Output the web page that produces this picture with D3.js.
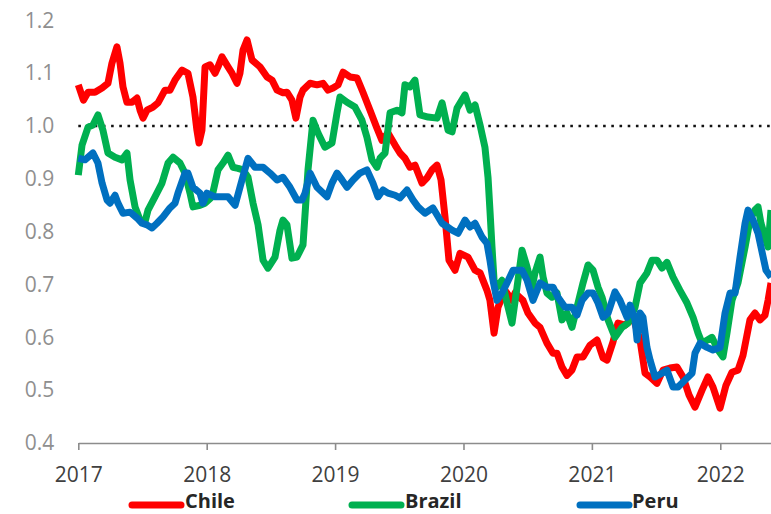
<!DOCTYPE html>
<html>
<head>
<meta charset="utf-8">
<script src="https://cdn.jsdelivr.net/npm/d3@7"></script>
<style>
  html, body { margin: 0; padding: 0; background: #fff; }
  svg { display: block; font-family: "Open Sans", "Noto Sans", sans-serif; }
</style>
</head>
<body>
<svg id="chart" width="771" height="514"></svg>
<script>
// 시리즈 데이터: [연도(소수), 값]
const chile = [
  [2017.00,1.078],[2017.04,1.049],[2017.076,1.064],[2017.13,1.064],[2017.185,1.072],[2017.231,1.081],
  [2017.262,1.119],[2017.301,1.150],[2017.325,1.119],[2017.348,1.074],[2017.379,1.045],[2017.418,1.045],
  [2017.457,1.053],[2017.481,1.030],[2017.504,1.015],[2017.535,1.030],[2017.582,1.036],[2017.621,1.044],
  [2017.675,1.068],[2017.714,1.068],[2017.753,1.087],[2017.808,1.106],[2017.854,1.100],[2017.893,1.055],
  [2017.924,0.992],[2017.94,0.968],[2017.963,0.992],[2017.987,1.112],[2018.026,1.116],[2018.065,1.100],
  [2018.088,1.112],[2018.119,1.131],[2018.166,1.112],[2018.197,1.100],[2018.236,1.081],[2018.259,1.100],
  [2018.283,1.144],[2018.314,1.163],[2018.353,1.125],[2018.415,1.112],[2018.47,1.093],[2018.509,1.087],
  [2018.548,1.068],[2018.594,1.063],[2018.625,1.064],[2018.664,1.049],[2018.695,1.015],[2018.727,1.055],
  [2018.75,1.068],[2018.805,1.081],[2018.859,1.078],[2018.906,1.081],[2018.945,1.068],[2018.984,1.072],
  [2019.023,1.078],[2019.062,1.102],[2019.116,1.093],[2019.171,1.091],[2019.217,1.064],[2019.272,1.030],
  [2019.326,0.996],[2019.365,0.973],[2019.412,0.987],[2019.467,0.964],[2019.505,0.949],[2019.544,0.939],
  [2019.583,0.922],[2019.622,0.926],[2019.677,0.892],[2019.716,0.902],[2019.755,0.917],[2019.794,0.926],
  [2019.825,0.898],[2019.856,0.828],[2019.887,0.746],[2019.934,0.727],[2019.973,0.759],[2020.035,0.752],
  [2020.09,0.727],[2020.129,0.722],[2020.183,0.689],[2020.206,0.670],[2020.238,0.608],[2020.269,0.657],
  [2020.323,0.689],[2020.378,0.670],[2020.401,0.684],[2020.463,0.670],[2020.502,0.646],[2020.557,0.627],
  [2020.596,0.619],[2020.65,0.589],[2020.697,0.570],[2020.728,0.570],[2020.767,0.544],[2020.806,0.528],
  [2020.845,0.538],[2020.884,0.563],[2020.931,0.563],[2020.985,0.585],[2021.04,0.595],[2021.087,0.561],
  [2021.118,0.557],[2021.164,0.591],[2021.203,0.627],[2021.258,0.623],[2021.32,0.638],[2021.375,0.595],
  [2021.414,0.532],[2021.453,0.525],[2021.507,0.513],[2021.554,0.538],[2021.608,0.542],[2021.663,0.544],
  [2021.71,0.525],[2021.756,0.491],[2021.803,0.468],[2021.858,0.500],[2021.904,0.525],[2021.943,0.506],
  [2021.998,0.466],[2022.044,0.509],[2022.091,0.534],[2022.138,0.538],[2022.177,0.566],[2022.231,0.633],
  [2022.27,0.646],[2022.309,0.633],[2022.348,0.642],[2022.372,0.670],[2022.395,0.703]
];

const brazil = [
  [2017.00,0.907],[2017.029,0.964],[2017.076,0.998],[2017.114,1.002],[2017.153,1.021],[2017.192,0.992],
  [2017.231,0.949],[2017.286,0.941],[2017.34,0.936],[2017.379,0.949],[2017.403,0.898],[2017.442,0.847],
  [2017.481,0.822],[2017.519,0.818],[2017.543,0.841],[2017.597,0.866],[2017.652,0.892],[2017.699,0.930],
  [2017.738,0.941],[2017.792,0.930],[2017.831,0.911],[2017.87,0.873],[2017.893,0.847],[2017.948,0.850],
  [2017.987,0.854],[2018.041,0.866],[2018.088,0.917],[2018.127,0.930],[2018.166,0.945],[2018.205,0.922],
  [2018.244,0.920],[2018.283,0.917],[2018.322,0.903],[2018.361,0.854],[2018.40,0.813],[2018.439,0.746],
  [2018.477,0.731],[2018.532,0.752],[2018.571,0.803],[2018.594,0.822],[2018.625,0.813],[2018.664,0.750],
  [2018.703,0.752],[2018.75,0.775],[2018.789,0.917],[2018.828,1.011],[2018.867,0.987],[2018.921,0.960],
  [2018.976,0.968],[2019.015,1.025],[2019.038,1.055],[2019.093,1.045],[2019.155,1.036],[2019.209,1.011],
  [2019.248,0.979],[2019.287,0.936],[2019.326,0.922],[2019.35,0.939],[2019.389,0.949],[2019.428,1.025],
  [2019.482,1.030],[2019.521,1.025],[2019.544,1.078],[2019.583,1.074],[2019.622,1.087],[2019.661,1.021],
  [2019.724,1.017],[2019.794,1.015],[2019.833,1.044],[2019.88,0.992],[2019.911,0.989],[2019.95,1.034],
  [2020.012,1.059],[2020.051,1.030],[2020.09,1.040],[2020.129,1.002],[2020.167,0.960],[2020.191,0.903],
  [2020.206,0.841],[2020.222,0.771],[2020.238,0.708],[2020.261,0.695],[2020.30,0.708],[2020.339,0.665],
  [2020.378,0.627],[2020.417,0.695],[2020.456,0.765],[2020.495,0.733],[2020.534,0.695],[2020.557,0.722],
  [2020.596,0.752],[2020.62,0.714],[2020.65,0.684],[2020.689,0.676],[2020.728,0.684],[2020.767,0.633],
  [2020.806,0.646],[2020.845,0.619],[2020.884,0.657],[2020.931,0.703],[2020.97,0.737],[2021.009,0.727],
  [2021.048,0.695],[2021.079,0.676],[2021.126,0.633],[2021.18,0.600],[2021.235,0.619],[2021.282,0.627],
  [2021.336,0.657],[2021.375,0.703],[2021.429,0.722],[2021.468,0.746],[2021.507,0.746],[2021.546,0.731],
  [2021.585,0.742],[2021.632,0.714],[2021.686,0.689],[2021.741,0.665],[2021.788,0.638],[2021.827,0.608],
  [2021.858,0.589],[2021.935,0.600],[2021.982,0.576],[2022.021,0.563],[2022.052,0.608],[2022.091,0.670],
  [2022.138,0.703],[2022.193,0.771],[2022.231,0.822],[2022.27,0.841],[2022.294,0.847],[2022.317,0.816],
  [2022.372,0.771],[2022.395,0.841]
];

const peru = [
  [2017.00,0.939],[2017.052,0.936],[2017.114,0.949],[2017.153,0.930],[2017.185,0.892],[2017.224,0.860],
  [2017.247,0.854],[2017.286,0.869],[2017.309,0.854],[2017.348,0.835],[2017.403,0.837],[2017.457,0.826],
  [2017.496,0.816],[2017.535,0.813],[2017.574,0.807],[2017.613,0.816],[2017.66,0.828],[2017.714,0.845],
  [2017.753,0.854],[2017.776,0.873],[2017.831,0.911],[2017.854,0.911],[2017.893,0.884],[2017.948,0.873],
  [2017.971,0.854],[2018.002,0.873],[2018.065,0.866],[2018.119,0.866],[2018.166,0.866],[2018.221,0.850],
  [2018.275,0.898],[2018.322,0.939],[2018.376,0.922],[2018.439,0.922],[2018.493,0.911],[2018.548,0.898],
  [2018.594,0.903],[2018.649,0.884],[2018.703,0.860],[2018.742,0.860],[2018.766,0.873],[2018.805,0.911],
  [2018.859,0.884],[2018.898,0.875],[2018.937,0.866],[2018.976,0.892],[2019.015,0.911],[2019.054,0.898],
  [2019.093,0.884],[2019.14,0.898],[2019.194,0.911],[2019.248,0.917],[2019.295,0.892],[2019.334,0.866],
  [2019.373,0.879],[2019.412,0.873],[2019.467,0.869],[2019.505,0.864],[2019.56,0.879],[2019.607,0.860],
  [2019.646,0.847],[2019.70,0.835],[2019.762,0.845],[2019.833,0.816],[2019.911,0.803],[2019.957,0.797],
  [2020.012,0.822],[2020.051,0.809],[2020.09,0.816],[2020.144,0.790],[2020.183,0.778],[2020.206,0.746],
  [2020.23,0.708],[2020.261,0.670],[2020.30,0.684],[2020.339,0.703],[2020.386,0.727],[2020.456,0.727],
  [2020.495,0.708],[2020.541,0.670],[2020.596,0.703],[2020.65,0.695],[2020.697,0.695],[2020.736,0.676],
  [2020.791,0.657],[2020.845,0.657],[2020.884,0.642],[2020.923,0.670],[2020.97,0.684],[2021.009,0.684],
  [2021.048,0.665],[2021.087,0.638],[2021.126,0.646],[2021.18,0.686],[2021.219,0.670],[2021.274,0.638],
  [2021.297,0.661],[2021.336,0.633],[2021.352,0.595],[2021.375,0.646],[2021.398,0.638],[2021.429,0.581],
  [2021.453,0.557],[2021.492,0.525],[2021.546,0.532],[2021.585,0.538],[2021.632,0.506],[2021.671,0.506],
  [2021.725,0.519],[2021.78,0.532],[2021.803,0.570],[2021.843,0.589],[2021.897,0.581],[2021.943,0.576],
  [2021.998,0.581],[2022.037,0.646],[2022.076,0.684],[2022.115,0.684],[2022.154,0.752],[2022.193,0.816],
  [2022.216,0.841],[2022.255,0.822],[2022.294,0.797],[2022.317,0.771],[2022.356,0.727],[2022.395,0.714]
];

const seriesNames = ["Chile", "Brazil", "Peru"];
const seriesData = [chile, brazil, peru];
const xTicks = [2017, 2018, 2019, 2020, 2021, 2022];
const yTicks = [0.4, 0.5, 0.6, 0.7, 0.8, 0.9, 1.0, 1.1, 1.2];
const xDomain = [2017, 2022.395];
const yDomain = [0.4, 1.2];

const COLORS = ["#ff0000", "#00b050", "#0070c0"]; // 빨강, 초록, 파랑

const W = 771, H = 514;
const margin = { top: 20.4, right: 0, bottom: 71, left: 78.3 };

const svg = d3.select("#chart");

const x = d3.scaleLinear().domain(xDomain).range([margin.left, W - margin.right]);
const y = d3.scaleLinear().domain(yDomain).range([H - margin.bottom, margin.top]);

// y축 라벨 (선/눈금 없음)
const yAxis = svg.append("g")
  .attr("transform", `translate(${margin.left},0)`)
  .call(d3.axisLeft(y).tickValues(yTicks).tickSize(0).tickPadding(24)
    .tickFormat(d3.format(".1f")));
yAxis.select(".domain").remove();
yAxis.selectAll("text")
  .attr("font-size", 21)
  .attr("fill", "#8f8f8f")
  .attr("font-family", "Open Sans, sans-serif");

// x축
const xAxis = svg.append("g")
  .attr("transform", `translate(0,${H - margin.bottom})`)
  .call(d3.axisBottom(x).tickValues(xTicks).tickFormat(d3.format("d"))
    .tickSizeInner(7).tickSizeOuter(0).tickPadding(17));
xAxis.select(".domain").attr("stroke", "#8c8c8c").attr("stroke-width", 1.6);
xAxis.selectAll(".tick line").attr("stroke", "#8c8c8c").attr("stroke-width", 1.6);
xAxis.selectAll("text")
  .attr("font-size", 21)
  .attr("fill", "#404040")
  .attr("font-family", "Open Sans, sans-serif");

// 1.0 기준 점선
svg.append("line")
  .attr("x1", x(xDomain[0]))
  .attr("x2", x(xDomain[1]))
  .attr("y1", y(1.0))
  .attr("y2", y(1.0))
  .attr("stroke", "#111")
  .attr("stroke-width", 2.6)
  .attr("stroke-dasharray", "2.6 5.6");

// 시리즈 선 (Chile 아래, Peru 위)
const line = d3.line()
  .x((d) => x(d[0]))
  .y((d) => y(d[1]));

svg.append("g")
  .selectAll("path")
  .data(seriesData)
  .join("path")
  .attr("d", line)
  .attr("fill", "none")
  .attr("stroke", (d, i) => COLORS[i])
  .attr("stroke-width", 7)
  .attr("stroke-linejoin", "round")
  .attr("stroke-linecap", "butt");

// 범례
const legendX = [132, 352, 580]; // 범례 선 시작 위치
const legend = svg.append("g")
  .selectAll("g")
  .data(seriesNames)
  .join("g")
  .attr("transform", (d, i) => `translate(${legendX[i]},505)`);

legend.append("line")
  .attr("x1", 0)
  .attr("x2", 49)
  .attr("stroke", (d, i) => COLORS[i])
  .attr("stroke-width", 7)
  .attr("stroke-linecap", "round");

legend.append("text")
  .text((d) => d)
  .attr("x", (d, i) => (i === 2 ? 52 : 53))
  .attr("y", 3)
  .attr("font-size", 20)
  .attr("font-weight", "bold")
  .attr("fill", "#262626");
</script>
</body>
</html>
